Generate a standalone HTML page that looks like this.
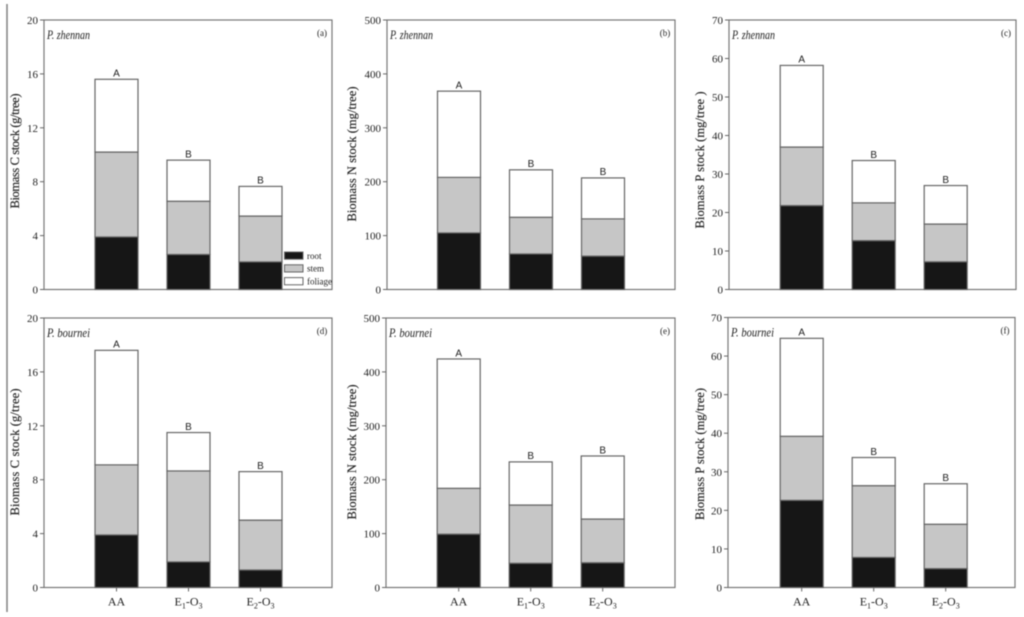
<!DOCTYPE html>
<html lang="en">
<head>
<meta charset="utf-8">
<title>Biomass C, N and P stock</title>
<style>
html,body{margin:0;padding:0;background:#fff;width:1024px;height:617px;overflow:hidden}
svg{display:block;filter:blur(0.5px)}
text{font-family:"Liberation Serif",serif;fill:#222}
.letter{font-family:"Liberation Sans",sans-serif;font-size:10px;text-anchor:middle}
.tick{font-size:11px;text-anchor:end}
.title{font-size:12.5px;text-anchor:middle;stroke:#222;stroke-width:.15px}
.species{font-size:13px;font-style:italic}
.tag{font-size:9px;text-anchor:middle}
.cat{font-size:12px;text-anchor:middle}
.cat .sub{font-size:8px}
.leg{font-size:9px}
</style>
</head>
<body>
<svg id="figure" width="1024" height="617" viewBox="0 0 1024 617" xmlns="http://www.w3.org/2000/svg">
<line x1="7" y1="4" x2="7" y2="612" stroke="#808080" stroke-width="1.5"/>
</svg>
<script>
// Treatment categories and significance letters
const categories = ['AA', 'E1-O3', 'E2-O3'];

// Panel (a) P. zhennan, biomass C
const rootA = [3.9, 2.6, 2.05];
const stemA = [6.3, 3.95, 3.4];
const foliageA = [5.4, 3.05, 2.2];
const lettersA = ['A', 'B', 'B'];
const ticksA = [0, 4, 8, 12, 16, 20];

// Panel (b) P. zhennan, biomass N
const rootB = [105, 66, 62];
const stemB = [103, 68, 69];
const foliageB = [160, 88, 76];
const lettersB = ['A', 'B', 'B'];
const ticksB = [0, 100, 200, 300, 400, 500];

// Panel (c) P. zhennan, biomass P
const rootC = [21.8, 12.7, 7.2];
const stemC = [15.2, 9.8, 9.8];
const foliageC = [21.2, 11, 10];
const lettersC = ['A', 'B', 'B'];
const ticksC = [0, 10, 20, 30, 40, 50, 60, 70];

// Panel (d) P. bournei, biomass C
const rootD = [3.9, 1.9, 1.3];
const stemD = [5.2, 6.75, 3.7];
const foliageD = [8.5, 2.85, 3.6];
const lettersD = ['A', 'B', 'B'];
const ticksD = [0, 4, 8, 12, 16, 20];

// Panel (e) P. bournei, biomass N
const rootE = [99, 45, 46];
const stemE = [85, 108, 81];
const foliageE = [240, 80, 117];
const lettersE = ['A', 'B', 'B'];
const ticksE = [0, 100, 200, 300, 400, 500];

// Panel (f) P. bournei, biomass P
const rootF = [22.6, 7.8, 4.9];
const stemF = [16.6, 18.6, 11.5];
const foliageF = [25.4, 7.3, 10.5];
const lettersF = ['A', 'B', 'B'];
const ticksF = [0, 10, 20, 30, 40, 50, 60, 70];

const legendLabels = ['root', 'stem', 'foliage'];

const svg = document.getElementById('figure');
const NS = 'http://www.w3.org/2000/svg';
const COLORS = { root: '#161616', stem: '#c6c6c6', foliage: '#ffffff' };
const BORDER = '#666666';
const BAR_WIDTH = 43;
const BAR_STEP = 72;

function make(tag, attrs, parent) {
  const el = document.createElementNS(NS, tag);
  for (const k in attrs) el.setAttribute(k, attrs[k]);
  parent.appendChild(el);
  return el;
}

function addCategoryLabel(parent, label, x, y) {
  const t = make('text', { class: 'cat', x: x, y: y }, parent);
  const m = label.match(/^E(\d)-O(\d)$/);
  if (!m) { t.textContent = label; return t; }
  const a = make('tspan', {}, t); a.textContent = 'E';
  const b = make('tspan', { class: 'sub', dy: 3 }, t); b.textContent = m[1];
  const c = make('tspan', { dy: -3 }, t); c.textContent = '-O';
  const d = make('tspan', { class: 'sub', dy: 3 }, t); d.textContent = m[2];
  return t;
}

function drawPanel(p) {
  const g = make('g', {}, svg);
  
  

  const yMax = p.ticks[p.ticks.length - 1];
  const yScale = v => p.bottom - (v / yMax) * (p.bottom - p.top);
  const xScale = i => p.firstCenter + i * BAR_STEP;

  const frame = make('rect', { x: p.left, y: p.top, width: p.right - p.left, height: p.bottom - p.top, fill: '#fff', stroke: '#777', 'stroke-width': 1.2 }, g);
  
  

  categories.forEach((cat, i) => {
    let base = 0;
    const x = xScale(i) - BAR_WIDTH / 2;
    [['root', p.root[i]], ['stem', p.stem[i]], ['foliage', p.foliage[i]]].forEach(([kind, val]) => {
      const yTop = yScale(base + val);
      const yBot = yScale(base);
      const bar = make('rect', { x: x, y: yTop, width: BAR_WIDTH, height: yBot - yTop, fill: COLORS[kind], stroke: BORDER, 'stroke-width': 1.2 }, g);
      
      
      base += val;
    });
    const letter = make('text', { class: 'letter', x: xScale(i), y: yScale(base) - 2.7 }, g);
    letter.textContent = p.letters[i];
    
    

    if (p.showCats) {
      const tk = make('line', { x1: xScale(i), x2: xScale(i), y1: p.bottom, y2: p.bottom + 4, stroke: '#666', 'stroke-width': 1 }, g);
      
      
      const lab = addCategoryLabel(g, cat, xScale(i), p.bottom + 18);
      
      
    }
  });

  p.ticks.forEach((tv, i) => {
    const tk = make('line', { x1: p.left - 4, x2: p.left, y1: yScale(tv), y2: yScale(tv), stroke: '#666', 'stroke-width': 1 }, g);
    
    
    const lab = make('text', { class: 'tick', x: p.left - 6, y: yScale(tv) + 4 }, g);
    lab.textContent = tv;
    
    
  });

  const title = make('text', { class: 'title', transform: 'translate(' + p.titleX + ',' + p.titleY + ') rotate(-90)', textLength: p.titleLen, lengthAdjust: 'spacing' }, g);
  title.textContent = p.title;
  
  

  const sp = make('text', { class: 'species', x: p.left + 3, y: p.top + 19, textLength: 43, lengthAdjust: 'spacingAndGlyphs' }, g);
  sp.textContent = p.species;
  
  

  const tag = make('text', { class: 'tag', x: p.right - 10, y: p.top + 16 }, g);
  tag.textContent = '(' + p.id + ')';
  
  
}

drawPanel({ id: 'a', left: 44, right: 332, top: 20, bottom: 289.5, firstCenter: 116.5, root: rootA, stem: stemA, foliage: foliageA, letters: lettersA, ticks: ticksA, title: 'Biomass C stock (g/tree)', titleX: 19, titleY: 151, titleLen: 115, species: 'P. zhennan', showCats: false });
drawPanel({ id: 'b', left: 387, right: 675, top: 20, bottom: 289.5, firstCenter: 459, root: rootB, stem: stemB, foliage: foliageB, letters: lettersB, ticks: ticksB, title: 'Biomass N stock (mg/tree)', titleX: 356, titleY: 154, titleLen: 135, species: 'P. zhennan', showCats: false });
drawPanel({ id: 'c', left: 729, right: 1016, top: 20, bottom: 289.5, firstCenter: 801.7, root: rootC, stem: stemC, foliage: foliageC, letters: lettersC, ticks: ticksC, title: 'Biomass P stock (mg/tree )', titleX: 704, titleY: 160, titleLen: 137, species: 'P. zhennan', showCats: false });
drawPanel({ id: 'd', left: 44, right: 332, top: 318, bottom: 587.5, firstCenter: 116.5, root: rootD, stem: stemD, foliage: foliageD, letters: lettersD, ticks: ticksD, title: 'Biomass C stock (g/tree)', titleX: 19, titleY: 452, titleLen: 127, species: 'P. bournei', showCats: true });
drawPanel({ id: 'e', left: 386, right: 675, top: 318, bottom: 587.5, firstCenter: 458.7, root: rootE, stem: stemE, foliage: foliageE, letters: lettersE, ticks: ticksE, title: 'Biomass N stock (mg/tree)', titleX: 356, titleY: 452, titleLen: 135, species: 'P. bournei', showCats: true });
drawPanel({ id: 'f', left: 728, right: 1015, top: 317.5, bottom: 587.5, firstCenter: 801.7, root: rootF, stem: stemF, foliage: foliageF, letters: lettersF, ticks: ticksF, title: 'Biomass P stock (mg/tree)', titleX: 704, titleY: 454, titleLen: 132, species: 'P. bournei', showCats: true });

const legend = make('g', {}, svg);


legendLabels.forEach((label, i) => {
  const sw = make('rect', { x: 284.5, y: 252 + i * 12.8, width: 18.5, height: 7.2, fill: COLORS[label], stroke: BORDER, 'stroke-width': 1 }, legend);
  
  
  const t = make('text', { class: 'leg', x: 307, y: 258.8 + i * 12.8 }, legend);
  t.textContent = label;
  
  
});
</script>
</body>
</html>
